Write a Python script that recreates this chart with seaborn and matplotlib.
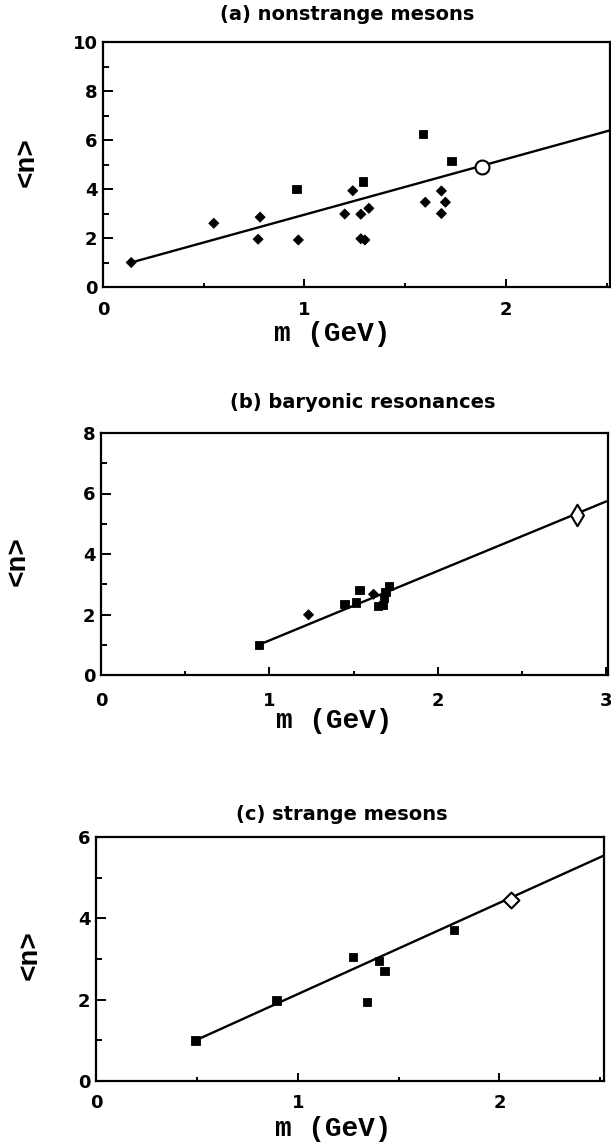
import numpy as np
import pandas as pd
import matplotlib
matplotlib.use("Agg")
import matplotlib.pyplot as plt
import seaborn as sns

# ---------------- data ----------------
# (a) nonstrange mesons: mass (GeV) vs mean multiplicity <n>
a_diamond_m = [0.14, 0.55, 0.78, 0.77, 0.97, 1.20, 1.24, 1.28, 1.32, 1.28, 1.30, 1.60, 1.68, 1.70, 1.68]
a_diamond_n = [1.00, 2.60, 2.85, 1.95, 1.92, 2.98, 3.93, 2.97, 3.21, 1.97, 1.92, 3.46, 3.92, 3.46, 3.00]
a_square_m = [0.96, 1.29, 1.59, 1.73]
a_square_n = [4.00, 4.30, 6.25, 5.14]
a_open_m = [1.88]
a_open_n = [4.91]
a_fit_m = [0.14, 2.52]
a_fit_n = [1.00, 6.40]

# (b) baryonic resonances
b_diamond_m = [1.232, 1.618]
b_diamond_n = [1.99, 2.67]
b_square_m = [0.938, 1.446, 1.515, 1.535, 1.645, 1.675, 1.680, 1.690, 1.710]
b_square_n = [1.00, 2.35, 2.40, 2.82, 2.28, 2.32, 2.55, 2.75, 2.95]
b_open_m = [2.824]
b_open_n = [5.30]
b_fit_m = [0.938, 3.0]
b_fit_n = [1.00, 5.74]

# (c) strange mesons
c_square_m = [0.494, 0.895, 1.273, 1.343, 1.403, 1.430, 1.774]
c_square_n = [1.00, 1.98, 3.05, 1.95, 2.95, 2.70, 3.72]
c_open_m = [2.058]
c_open_n = [4.46]
c_fit_m = [0.494, 2.52]
c_fit_n = [1.00, 5.55]

titles = ["(a) nonstrange mesons", "(b) baryonic resonances", "(c) strange mesons"]
x_label = "m (GeV)"
y_label = "<n>"

# ---------------- style ----------------
sns.set_theme(style="ticks")
plt.rcParams["font.family"] = ["DejaVu Sans"]
plt.rcParams["font.weight"] = "bold"
plt.rcParams["axes.linewidth"] = 1.6
plt.rcParams["axes.edgecolor"] = "black"
plt.rcParams["text.color"] = "black"
plt.rcParams["axes.labelcolor"] = "black"
plt.rcParams["xtick.color"] = "black"
plt.rcParams["ytick.color"] = "black"

MONO = ["Liberation Mono", "DejaVu Sans Mono"]

fig = plt.figure(figsize=(6.11, 11.44), dpi=100)


def frame(df_filled, df_open, fit_m, fit_n, rect, xlim, ylim, xmajor, ymajor,
          open_marker, open_size, title, title_xy, ylab_xy, xlab_xy, xpad):
    ax = fig.add_axes(rect)
    sns.lineplot(x=fit_m, y=fit_n, ax=ax, color="black", linewidth=1.7,
                 estimator=None, sort=False, zorder=2)
    sns.scatterplot(data=df_filled, x="m", y="n", style="kind",
                    markers={"diamond": "D", "square": "s"},
                    size="kind", sizes={"diamond": 26, "square": 36},
                    color="black", edgecolor="black", linewidth=0.6,
                    legend=False, ax=ax, zorder=3)
    sns.scatterplot(data=df_open, x="m", y="n", marker=open_marker, s=open_size,
                    facecolors="white", edgecolor="black", linewidth=1.5,
                    legend=False, ax=ax, zorder=4)
    ax.set_xlim(*xlim)
    ax.set_ylim(*ylim)
    ax.set_xticks(xmajor)
    ax.set_xticks(np.arange(0.5, xlim[1], 1.0), minor=True)
    ax.set_yticks(ymajor)
    ax.set_yticks(np.arange(1, ylim[1], 2), minor=True)
    ax.tick_params(which="both", direction="in", color="black", width=1.4,
                   labelcolor="black", top=False, right=False)
    ax.tick_params(axis="y", which="major", length=7, pad=4, labelsize=13)
    ax.tick_params(axis="y", which="minor", length=4)
    ax.tick_params(axis="x", which="major", length=6, pad=xpad, labelsize=13)
    ax.tick_params(axis="x", which="minor", length=3)
    for lab in ax.get_xticklabels() + ax.get_yticklabels():
        lab.set_fontweight("bold")
    for sp in ax.spines.values():
        sp.set_visible(True)
        sp.set_linewidth(1.6)
        sp.set_color("black")
    ax.set_xlabel(x_label, family=MONO, fontsize=20, fontweight="bold",
                  color="black", va="center", ha="center")
    ax.xaxis.set_label_coords(*xlab_xy)
    ax.set_ylabel(y_label, family=MONO, fontsize=20, fontweight="bold",
                  color="black", va="center", ha="center")
    ax.yaxis.set_label_coords(*ylab_xy)
    fig.text(title_xy[0], title_xy[1], title, ha="center", va="center",
             fontsize=14, fontweight="bold", color="black")
    return ax


def table(groups):
    rows = []
    for kind, ms, ns in groups:
        rows += [{"kind": kind, "m": m, "n": n} for m, n in zip(ms, ns)]
    return pd.DataFrame(rows)


W, H = 611, 1144

frame(table([("diamond", a_diamond_m, a_diamond_n), ("square", a_square_m, a_square_n)]),
      pd.DataFrame({"m": a_open_m, "n": a_open_n}),
      a_fit_m, a_fit_n,
      [103 / W, (H - 287) / H, 507 / W, 245 / H],
      (0, 2.517), (0, 10), [0, 1, 2], [0, 2, 4, 6, 8, 10],
      "o", 100, titles[0], (347 / W, 1 - 15 / H),
      (-0.15, 0.51), (0.452, -0.192), 10)

frame(table([("diamond", b_diamond_m, b_diamond_n), ("square", b_square_m, b_square_n)]),
      pd.DataFrame({"m": b_open_m, "n": b_open_n}),
      b_fit_m, b_fit_n,
      [101 / W, (H - 675) / H, 507 / W, 242 / H],
      (0, 3.01), (0, 8), [0, 1, 2, 3], [0, 2, 4, 6, 8],
      "d", 120, titles[1], (363 / W, 1 - 402 / H),
      (-0.165, 0.47), (0.46, -0.19), 12)

frame(table([("square", c_square_m, c_square_n)]),
      pd.DataFrame({"m": c_open_m, "n": c_open_n}),
      c_fit_m, c_fit_n,
      [96 / W, (H - 1081) / H, 508 / W, 244 / H],
      (0, 2.518), (0, 6), [0, 1, 2], [0, 2, 4, 6],
      "D", 65, titles[2], (342 / W, 1 - 814 / H),
      (-0.13, 0.516), (0.467, -0.197), 9)

fig.savefig("out.png", dpi=100)
